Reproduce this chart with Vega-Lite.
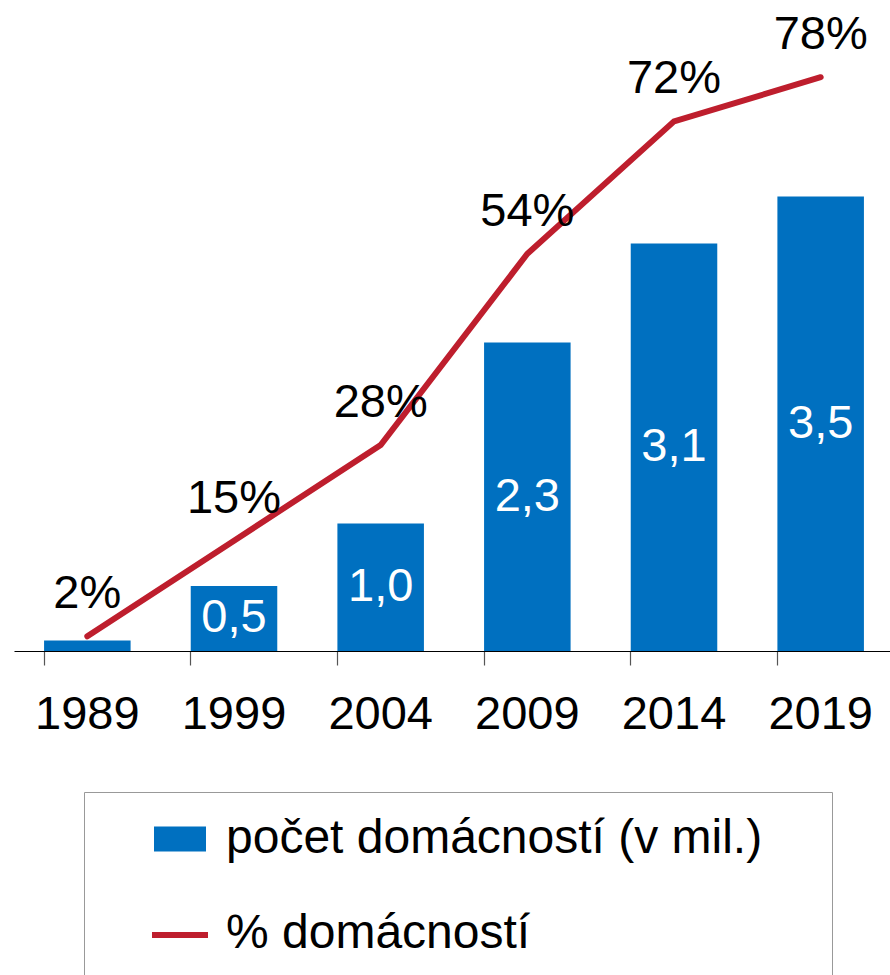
{
  "$schema": "https://vega.github.io/schema/vega-lite/v6.json",
  "width": 880,
  "height": 651,
  "autosize": {"type": "none"},
  "padding": {"left": 14, "top": 0, "right": 0, "bottom": 324},
  "background": "white",
  "config": {"view": {"stroke": null}, "font": "Liberation Sans"},
  "data": {
    "values": [
      {"year": "1989", "households": 0.08, "share": 0.02, "label": ""},
      {"year": "1999", "households": 0.5, "share": 0.15, "label": "0,5"},
      {"year": "2004", "households": 0.98, "share": 0.28, "label": "1,0"},
      {"year": "2009", "households": 2.37, "share": 0.54, "label": "2,3"},
      {"year": "2014", "households": 3.13, "share": 0.72, "label": "3,1"},
      {"year": "2019", "households": 3.49, "share": 0.78, "label": "3,5"}
    ]
  },
  "encoding": {
    "x": {
      "field": "year",
      "type": "nominal",
      "sort": null,
      "title": null,
      "scale": {"paddingInner": 0.41, "paddingOuter": 0.205},
      "axis": {
        "labelAngle": 0,
        "labelFont": "Liberation Sans",
        "labelFontSize": 47,
        "labelColor": "black",
        "labelPadding": 26,
        "tickSize": 14,
        "tickColor": "#555555",
        "tickWidth": 1.2,
        "bandPosition": 0,
        "domainColor": "black",
        "domainWidth": 1.2,
        "grid": false
      }
    }
  },
  "layer": [
    {
      "mark": {"type": "bar"},
      "encoding": {
        "y": {"field": "households", "type": "quantitative", "scale": {"domain": [0, 5]}, "axis": null},
        "fill": {
          "datum": "počet domácností (v mil.)",
          "type": "nominal",
          "scale": {"domain": ["počet domácností (v mil.)", "% domácností"], "range": ["#0070c0", "transparent"]},
          "legend": {
            "title": null,
            "orient": "none",
            "legendX": 70,
            "legendY": 792,
            "padding": 21,
            "strokeColor": "#999999",
            "labelFont": "Liberation Sans",
            "labelFontSize": 48,
            "labelColor": "black",
            "labelLimit": 1000,
            "labelOffset": 20,
            "symbolOffset": 49,
            "symbolType": "M-1,-0.48H1V0.48H-1Z",
            "symbolSize": 2704,
            "symbolStrokeWidth": 0,
            "rowPadding": 44.5,
            "labelExpr": "datum.label + '\u2002\u2002\u200b'"
          }
        }
      }
    },
    {
      "mark": {"type": "text", "color": "white", "fontSize": 47, "font": "Liberation Sans", "baseline": "middle"},
      "encoding": {
        "y": {"field": "households", "type": "quantitative", "scale": {"domain": [0, 10]}, "axis": null},
        "text": {"field": "label", "type": "nominal"}
      }
    },
    {
      "mark": {"type": "line", "strokeWidth": 6, "strokeCap": "round"},
      "encoding": {
        "y": {"field": "share", "type": "quantitative", "scale": {"domain": [0, 0.885]}, "axis": null},
        "stroke": {
          "datum": "% domácností",
          "type": "nominal",
          "scale": {"domain": ["% domácností"], "range": ["#be1e2d"]},
          "legend": {
            "title": null,
            "orient": "none",
            "legendX": 70,
            "legendY": 880,
            "padding": 24,
            "labelFont": "Liberation Sans",
            "labelFontSize": 48,
            "labelLimit": 1000,
            "labelOffset": 20,
            "labelExpr": "''",
            "symbolOffset": 41,
            "symbolType": "M-1,0H1",
            "symbolSize": 3136,
            "symbolStrokeWidth": 6
          }
        }
      }
    },
    {
      "mark": {"type": "text", "color": "black", "fontSize": 47, "font": "Liberation Sans", "baseline": "alphabetic", "dy": -28},
      "encoding": {
        "y": {"field": "share", "type": "quantitative", "scale": {"domain": [0, 0.885]}, "axis": null},
        "text": {"field": "share", "type": "quantitative", "format": ".0%"}
      }
    }
  ],
  "resolve": {"scale": {"y": "independent"}}
}
